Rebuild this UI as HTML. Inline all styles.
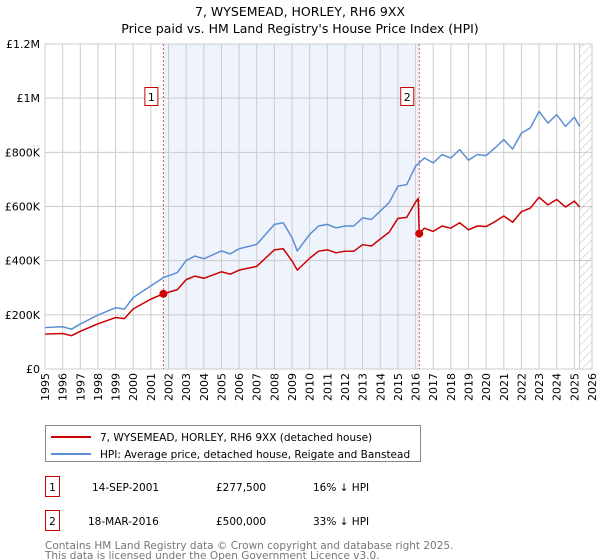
<!DOCTYPE html>
<html><head><meta charset="utf-8"><style>
body{margin:0;background:#fff;font-family:"Liberation Sans","DejaVu Sans",sans-serif;}
#wrap{position:relative;width:600px;height:560px;overflow:hidden}
</style></head><body>
<div id="wrap">
<svg id="chart" width="600" height="560" xmlns="http://www.w3.org/2000/svg" font-family="DejaVu Sans, Liberation Sans, sans-serif">
<defs><pattern id="hatch" width="6" height="6" patternUnits="userSpaceOnUse" patternTransform="rotate(45)"><line x1="0" y1="0" x2="0" y2="6" stroke="#bbb" stroke-width="1"/></pattern></defs>
<text x="300" y="16" text-anchor="middle" font-size="12.5">7, WYSEMEAD, HORLEY, RH6 9XX</text>
<text x="300" y="33" text-anchor="middle" font-size="12.5">Price paid vs. HM Land Registry's House Price Index (HPI)</text>
<g id="plot"></g>
<g>
<rect x="45.5" y="425.5" width="375" height="36" fill="#fff" stroke="#888"/>
<line x1="51" y1="437" x2="91" y2="437" stroke="#cc0000" stroke-width="2"/>
<text x="100" y="441" font-size="10.5">7, WYSEMEAD, HORLEY, RH6 9XX (detached house)</text>
<line x1="51" y1="454" x2="91" y2="454" stroke="#5b8fd4" stroke-width="2"/>
<text x="100" y="458" font-size="10.5">HPI: Average price, detached house, Reigate and Banstead</text>
</g>
<g font-size="10.5">
<rect x="45.5" y="476.5" width="14" height="20" fill="#fff" stroke="#cc0000"/>
<text x="52.5" y="491" text-anchor="middle">1</text>
<text x="92" y="491">14-SEP-2001</text><text x="216" y="491">£277,500</text><text x="313" y="491">16% ↓ HPI</text>
<rect x="45.5" y="510.5" width="14" height="20" fill="#fff" stroke="#cc0000"/>
<text x="52.5" y="525" text-anchor="middle">2</text>
<text x="88" y="525">18-MAR-2016</text><text x="216" y="525">£500,000</text><text x="313" y="525">33% ↓ HPI</text>
</g>
<text x="45" y="549" font-size="10.5" fill="#777">Contains HM Land Registry data © Crown copyright and database right 2025.</text>
<text x="45" y="559" font-size="10.5" fill="#777">This data is licensed under the Open Government Licence v3.0.</text>
</svg>
</div>
<script>
const hpiYears=[1995,1996,1996.5,1997,1998,1999,1999.5,2000,2001,2001.7,2002.5,2003,2003.5,2004,2005,2005.5,2006,2007,2008,2008.5,2009,2009.3,2010,2010.5,2011,2011.5,2012,2012.5,2013,2013.5,2014,2014.5,2015,2015.5,2016,2016.5,2017,2017.5,2018,2018.5,2019,2019.5,2020,2020.5,2021,2021.5,2022,2022.5,2023,2023.5,2024,2024.5,2025,2025.3];
const hpiValues=[153,156,147,166,199,226,221,264,307,337,356,401,417,407,436,425,444,460,534,540,485,436,497,528,534,521,528,528,558,552,583,614,675,681,749,779,761,792,779,810,771,792,788,816,847,812,871,890,951,908,939,896,930,896];
const priceYears=[1995,1996,1996.5,1997,1998,1999,1999.5,2000,2001,2001.7,2002.5,2003,2003.5,2004,2005,2005.5,2006,2007,2008,2008.5,2009,2009.3,2010,2010.5,2011,2011.5,2012,2012.5,2013,2013.5,2014,2014.5,2015,2015.5,2016,2016.15,2016.21,2016.5,2017,2017.5,2018,2018.5,2019,2019.5,2020,2020.5,2021,2021.5,2022,2022.5,2023,2023.5,2024,2024.5,2025,2025.3];
const priceValues=[129,131,123,139,167,190,186,222,258,277.5,293,330,343,335,359,350,365,379,440,444,399,365,409,435,440,429,435,435,459,454,480,505,556,560,616,630,500,520,508,528,520,540,514,528,526,544,565,542,581,594,634,606,626,598,620,598];
const saleYears=[2001.71,2016.21];
const saleValues=[277.5,500];
const saleLabels=["1","2"];
const yTicks=[0,200,400,600,800,1000,1200];
const yTickLabels=["£0","£200K","£400K","£600K","£800K","£1M","£1.2M"];
const xTicks=[1995,1996,1997,1998,1999,2000,2001,2002,2003,2004,2005,2006,2007,2008,2009,2010,2011,2012,2013,2014,2015,2016,2017,2018,2019,2020,2021,2022,2023,2024,2025,2026];

const X0=45,X1=592,Y0=369,Y1=44;
const x=y=>X0+(y-1995)/(2026-1995)*(X1-X0);
const yv=v=>Y0-v/1200*(Y0-Y1);
const NS="http://www.w3.org/2000/svg";
const g=document.getElementById('plot');
function mk(t,a,p){const e=document.createElementNS(NS,t);for(const k in a)e.setAttribute(k,a[k]);(p||g).appendChild(e);return e;}

const shade=mk('rect',{x:x(saleYears[0]),y:Y1,width:x(saleYears[1])-x(saleYears[0]),height:Y0-Y1,fill:'#eef3fc'});


xTicks.forEach(t=>{const l=mk('line',{x1:x(t),x2:x(t),y1:Y1,y2:Y0,stroke:'#ccc','stroke-width':1});


const xx=x(t)+4;
const tx=mk('text',{x:xx,y:373,'text-anchor':'end','font-size':11,transform:'rotate(-90 '+xx+' 373)'});tx.textContent=t;

});
yTicks.forEach((t,i)=>{const l=mk('line',{x1:X0,x2:X1,y1:yv(t),y2:yv(t),stroke:'#ccc','stroke-width':1});


const tx=mk('text',{x:40,y:yv(t)+4,'text-anchor':'end','font-size':11});tx.textContent=yTickLabels[i];

});
const hx=x(2025.3);
const hatch=mk('rect',{x:hx,y:Y1,width:X1-hx,height:Y0-Y1,fill:'url(#hatch)',stroke:'#999','stroke-width':0.5});


const frame=mk('rect',{x:X0,y:Y1,width:X1-X0,height:Y0-Y1,fill:'none',stroke:'#ccc'});


saleYears.forEach((s,i)=>{const l=mk('line',{x1:x(s),x2:x(s),y1:Y1,y2:Y0,stroke:'#e05050','stroke-dasharray':'2,2','stroke-width':1});


const bx=mk('rect',{x:x(s)-18.5,y:87.5,width:13,height:18,fill:'#fff',stroke:'#cc0000'});


const t=mk('text',{x:x(s)-12,y:101,'text-anchor':'middle','font-size':11});t.textContent=saleLabels[i];

});
function line(xs,vs,c,name){const p=mk('polyline',{points:xs.map((a,i)=>x(a)+','+yv(vs[i])).join(' '),fill:'none',stroke:c,'stroke-width':1.5,'stroke-linejoin':'round'});

}
line(hpiYears,hpiValues,'#5b8fd4','hpi-line');
line(priceYears,priceValues,'#cc0000','price-line');
saleYears.forEach((s,i)=>{const c=mk('circle',{cx:x(s),cy:yv(saleValues[i]),r:4,fill:'#cc0000'});

});
</script>
</body></html>
